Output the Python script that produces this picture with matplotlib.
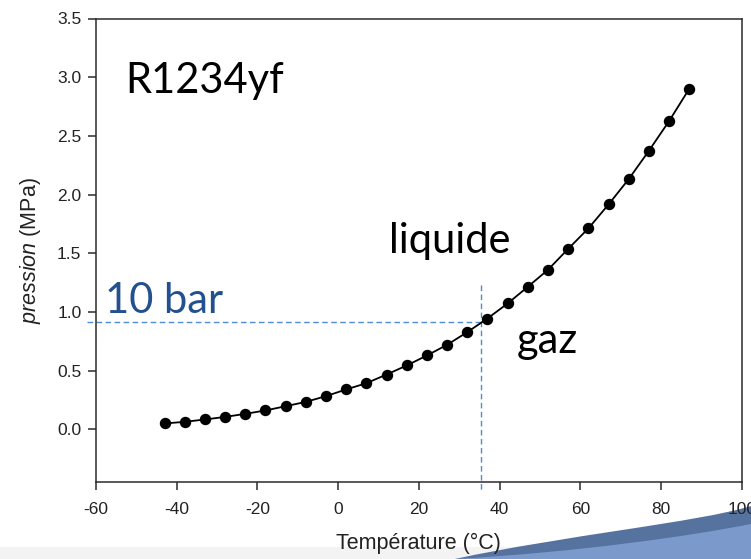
import matplotlib
matplotlib.use("Agg")
import matplotlib.pyplot as plt
from matplotlib.path import Path
from matplotlib.patches import PathPatch, Rectangle

plt.rcParams['font.family'] = ['Liberation Sans', 'DejaVu Sans']
plt.rcParams['mathtext.fontset'] = 'custom'
plt.rcParams['mathtext.it'] = 'Liberation Sans:italic'
plt.rcParams['mathtext.rm'] = 'Liberation Sans'

# Saturation curve of R1234yf
temperature = [-43, -38, -33, -28, -23, -18, -13, -8, -3, 2, 7, 12, 17, 22, 27,
               32, 37, 42, 47, 52, 57, 62, 67, 72, 77, 82, 87]
pressure = [0.051, 0.065, 0.085, 0.107, 0.133, 0.162, 0.198, 0.235, 0.284, 0.341,
            0.394, 0.468, 0.545, 0.630, 0.721, 0.829, 0.945, 1.073, 1.215, 1.360,
            1.538, 1.712, 1.916, 2.132, 2.373, 2.626, 2.901]

x_ticks = [-60, -40, -20, 0, 20, 40, 60, 80, 100]
y_ticks = [0.0, 0.5, 1.0, 1.5, 2.0, 2.5, 3.0, 3.5]

# Reference lines for the 10 bar operating point
ref_pressure = 0.911
ref_temperature = 35.3

W, H = 751, 559
fig = plt.figure(figsize=(W / 100, H / 100), dpi=100)
fig.patch.set_facecolor('white')

# Light grey strip at the bottom of the slide
fig.add_artist(Rectangle((0, 0), 1, 12 / H, transform=fig.transFigure,
                         facecolor='#f3f3f3', edgecolor='none', zorder=-2))


def px(x, y):
    return (x / W, 1 - y / H)


# Slide decoration: two-tone swoosh in the bottom-right corner
dark = Path([px(455, 559), px(560, 536), px(700, 522), px(751, 506),
             px(751, 559), px(455, 559)],
            [Path.MOVETO, Path.CURVE4, Path.CURVE4, Path.CURVE4,
             Path.LINETO, Path.CLOSEPOLY])
light = Path([px(455, 559), px(580, 552), px(690, 536), px(751, 524),
              px(751, 559), px(455, 559)],
             [Path.MOVETO, Path.CURVE4, Path.CURVE4, Path.CURVE4,
              Path.LINETO, Path.CLOSEPOLY])
fig.add_artist(PathPatch(dark, transform=fig.transFigure,
                         facecolor='#56729f', edgecolor='none', zorder=-1))
fig.add_artist(PathPatch(light, transform=fig.transFigure,
                         facecolor='#7b9acb', edgecolor='none', zorder=-1))

ax = fig.add_axes([96 / W, 1 - 482.3 / H, (741.7 - 96) / W, (482.3 - 18.5) / H])
ax.set_facecolor('none')
ax.set_xlim(-60, 100)
ax.set_ylim(-0.45, 3.5)
ax.set_xticks(x_ticks)
ax.set_xticklabels([str(t) for t in x_ticks])
ax.set_yticks(y_ticks)
ax.set_yticklabels([f"{t:.1f}" for t in y_ticks])

for s in ax.spines.values():
    s.set_color('#2b2b2b')
    s.set_linewidth(1.1)
ax.tick_params(direction='out', length=5.5, width=1.1, color='#2b2b2b',
               labelsize=12.5, labelcolor='#222222')
ax.tick_params(axis='x', pad=8.5)
ax.tick_params(axis='y', pad=5)

ax.plot(temperature, pressure, color='black', lw=1.3, marker='o',
        markersize=7.2, markerfacecolor='black', markeredgecolor='black', zorder=3)

ax.set_xlabel('Température (°C)', fontsize=15.5, color='#222222', labelpad=11.5)
ax.set_ylabel(r'$\mathit{pression}$ (MPa)', fontsize=15.5, color='#222222',
              labelpad=10)

dash_color = '#4f8bd6'
ax.plot([-62.2, 38.1], [ref_pressure, ref_pressure], color=dash_color, lw=1.0,
        ls=(0, (4, 2.5)), clip_on=False, zorder=2)
ax.plot([ref_temperature, ref_temperature], [1.229, -0.52], color=dash_color,
        lw=1.0, ls=(0, (4, 2.5)), clip_on=False, zorder=2)

txt_font = ['Lato', 'DejaVu Sans']
ax.text(-52.8, 2.862, 'R1234yf', family=txt_font, fontsize=30, color='black',
        ha='left', va='baseline')
ax.text(12.7, 1.499, 'liquide', family=txt_font, fontsize=30, color='black',
        ha='left', va='baseline')
ax.text(44.3, 0.647, 'gaz', family=txt_font, fontsize=30, color='black',
        ha='left', va='baseline')
ax.text(-57.7, 0.988, '10 bar', family=txt_font, fontsize=30, color='#23508e',
        ha='left', va='baseline')

fig.savefig('out.png', dpi=100)
